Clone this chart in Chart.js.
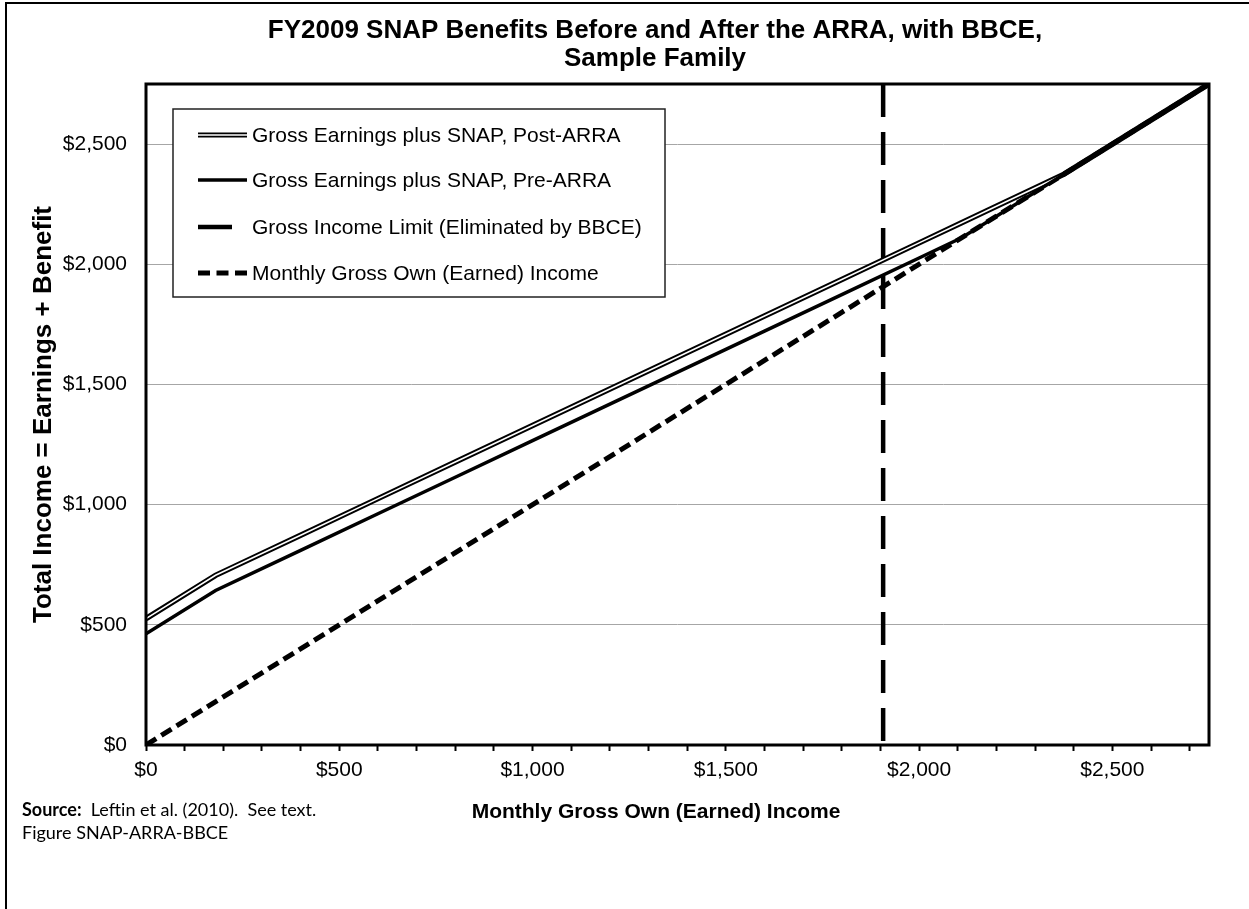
<!DOCTYPE html>
<html>
<head>
<meta charset="utf-8">
<script src="https://cdn.jsdelivr.net/npm/chart.js@4.4.1/dist/chart.umd.min.js"></script>
<style>
  body { margin: 0; background: #fff; }
  canvas { display: block; }
</style>
</head>
<body>
<canvas id="myChart" width="1249" height="909"></canvas>
<script>
// values (monthly $, family of three)
const incomeX   = [0, 180, 400, 600, 800, 1000, 1200, 1400, 1600, 1800, 2000, 2110, 2200, 2300, 2375, 2500, 2750]
const preTotal  = [463, 643, 810, 962, 1114, 1266, 1418, 1570, 1722, 1874, 2026, 2110, 2200, 2300, 2375, 2500, 2750]
const postTotal = [526, 706, 873, 1025, 1177, 1329, 1481, 1633, 1785, 1937, 2089, 2173, 2241, 2317, 2375, 2500, 2750]
const ownX = [0, 2750]
const ownY = [0, 2750]
const limitX = [1907, 1907]
const limitY = [2750, 0]

const seriesNames = [
  'Gross Earnings plus SNAP, Post-ARRA',
  'Gross Earnings plus SNAP, Pre-ARRA',
  'Gross Income Limit (Eliminated by BBCE)',
  'Monthly Gross Own (Earned) Income'
]
const titleLines = ['FY2009 SNAP Benefits Before and After the ARRA, with BBCE,', 'Sample Family']
const xTitle = 'Monthly Gross Own (Earned) Income'
const xTicks = [0, 100, 200, 300, 400, 500, 600, 700, 800, 900, 1000, 1100, 1200, 1300, 1400,
  1500, 1600, 1700, 1800, 1900, 2000, 2100, 2200, 2300, 2400, 2500, 2600, 2700]
const yTicks = [0, 500, 1000, 1500, 2000, 2500]

const FONT = "'Liberation Sans', Arial, sans-serif"
const NOTE_FONT = "Lato, 'Open Sans', sans-serif"

function pts(xs, ys) {
  return xs.map((x, i) => ({ x: x, y: ys[i] }))
}
function money(v) {
  return '$' + v.toLocaleString('en-US')
}

// white page, partial frame, title, x-axis title and source note
const pagePlugin = {
  id: 'page',
  beforeDraw(chart) {
    const ctx = chart.ctx
    ctx.save()
    ctx.fillStyle = '#fff'
    ctx.fillRect(0, 0, chart.width, chart.height)
    ctx.fillStyle = '#000'
    ctx.fillRect(5, 2, 2, chart.height)
    ctx.fillRect(5, 2, chart.width, 2)
    ctx.restore()
  },
  afterDraw(chart) {
    const ctx = chart.ctx
    ctx.save()
    ctx.fillStyle = '#000'
    ctx.textBaseline = 'middle'
    ctx.textAlign = 'center'
    ctx.font = 'bold 26px ' + FONT
    ctx.fillText(titleLines[0], 655, 31)
    ctx.fillText(titleLines[1], 655, 59)

    ctx.font = 'bold 21px ' + FONT
    ctx.fillText(xTitle, 656, 812)

    ctx.textAlign = 'left'
    ctx.font = 'bold 18px ' + NOTE_FONT
    ctx.fillText('Source:', 22, 810)
    let w = ctx.measureText('Source:').width
    ctx.font = '18px ' + NOTE_FONT
    ctx.fillText('  Leftin et al. (2010).  See text.', 22 + w, 810)
    ctx.fillText('Figure SNAP-ARRA-BBCE', 22, 833)
    ctx.restore()
  }
}

// plot frame + boxed legend inside the plot
const framePlugin = {
  id: 'frame',
  afterDatasetsDraw(chart) {
    const ctx = chart.ctx
    const a = chart.chartArea
    ctx.save()
    ctx.strokeStyle = '#000'
    ctx.lineWidth = 3
    ctx.strokeRect(a.left, a.top, a.right - a.left, a.bottom - a.top)

    // legend box
    const bx = 173, by = 109, bw = 492, bh = 188
    ctx.fillStyle = '#fff'
    ctx.fillRect(bx, by, bw, bh)
    ctx.lineWidth = 1.5
    ctx.strokeStyle = '#222'
    ctx.strokeRect(bx, by, bw, bh)

    const rows = [135, 180, 227, 273]
    const x0 = 198, x1 = 247
    ctx.lineCap = 'butt'
    // post-ARRA double line
    ctx.setLineDash([])
    ctx.strokeStyle = '#000'; ctx.lineWidth = 5
    ctx.beginPath(); ctx.moveTo(x0, rows[0]); ctx.lineTo(x1, rows[0]); ctx.stroke()
    ctx.strokeStyle = '#fff'; ctx.lineWidth = 1.6
    ctx.beginPath(); ctx.moveTo(x0, rows[0]); ctx.lineTo(x1, rows[0]); ctx.stroke()
    // pre-ARRA
    ctx.strokeStyle = '#000'; ctx.lineWidth = 3.5
    ctx.beginPath(); ctx.moveTo(x0, rows[1]); ctx.lineTo(x1, rows[1]); ctx.stroke()
    // gross income limit
    ctx.lineWidth = 4.5
    ctx.beginPath(); ctx.moveTo(x0, rows[2]); ctx.lineTo(232, rows[2]); ctx.stroke()
    // own income
    ctx.lineWidth = 5
    ctx.setLineDash([12, 6.5])
    ctx.beginPath(); ctx.moveTo(x0, rows[3]); ctx.lineTo(x1, rows[3]); ctx.stroke()
    ctx.setLineDash([])

    ctx.fillStyle = '#000'
    ctx.font = '21px ' + FONT
    ctx.textBaseline = 'middle'
    seriesNames.forEach((name, i) => {
      ctx.fillText(name, 252, rows[i] + 1)
    })
    ctx.restore()
  }
}

const ctx = document.getElementById('myChart').getContext('2d')
const myChart = new Chart(ctx, {
  type: 'line',
  data: {
    datasets: [
      {
        label: seriesNames[1],
        data: pts(incomeX, preTotal),
        borderColor: '#000',
        borderWidth: 3.5,
        order: 0
      },
      {
        label: seriesNames[0] + ' (inner)',
        data: pts(incomeX, postTotal),
        borderColor: '#fff',
        borderWidth: 1.6,
        order: 1
      },
      {
        label: seriesNames[0],
        data: pts(incomeX, postTotal),
        borderColor: '#000',
        borderWidth: 5.5,
        order: 2
      },
      {
        label: seriesNames[2],
        data: pts(limitX, limitY),
        borderColor: '#000',
        borderWidth: 4.5,
        borderDash: [33, 15],
        order: 3
      },
      {
        label: seriesNames[3],
        data: pts(ownX, ownY),
        borderColor: '#000',
        borderWidth: 5,
        borderDash: [12, 6],
        order: 4
      }
    ]
  },
  options: {
    responsive: false,
    animation: false,
    devicePixelRatio: 1,
    parsing: false,
    elements: {
      point: { radius: 0 },
      line: { tension: 0, fill: false, borderCapStyle: 'butt' }
    },
    layout: { padding: { left: 0, right: 40, top: 84, bottom: 0 } },
    plugins: {
      legend: { display: false },
      tooltip: { enabled: false },
      title: { display: false }
    },
    scales: {
      x: {
        type: 'linear',
        min: 0,
        max: 2750,
        afterBuildTicks: (s) => { s.ticks = xTicks.map(v => ({ value: v })) },
        afterFit: (s) => { s.height = 164 },
        ticks: {
          autoSkip: false,
          maxRotation: 0,
          padding: 7,
          color: '#000',
          font: { family: FONT, size: 21 },
          callback: (v) => (v % 500 === 0 ? money(v) : '')
        },
        grid: {
          drawOnChartArea: false,
          drawTicks: true,
          tickLength: 6,
          tickWidth: 2,
          color: '#000'
        },
        border: { display: false }
      },
      y: {
        type: 'linear',
        min: 0,
        max: 2750,
        afterBuildTicks: (s) => { s.ticks = yTicks.map(v => ({ value: v })) },
        afterFit: (s) => { s.width = 146 },
        ticks: {
          padding: 19,
          color: '#000',
          font: { family: FONT, size: 21 },
          callback: (v) => money(v)
        },
        grid: {
          drawTicks: false,
          color: '#a6a6a6',
          lineWidth: 1
        },
        border: { display: false },
        title: {
          display: true,
          text: 'Total Income = Earnings + Benefit',
          color: '#000',
          font: { family: FONT, size: 26, weight: 'bold', lineHeight: 1.2 },
          padding: { top: 28, bottom: 0 }
        }
      }
    }
  },
  plugins: [pagePlugin, framePlugin]
})
</script>
</body>
</html>
